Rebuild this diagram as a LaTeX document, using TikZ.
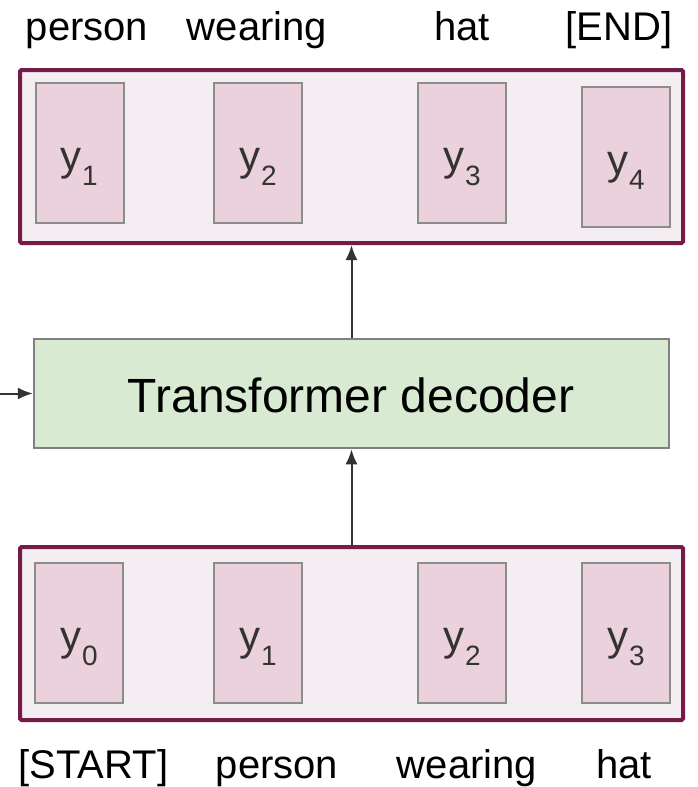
\documentclass[tikz,border=0pt]{standalone}
\usepackage{fontspec}
\setmainfont{Liberation Sans}
\usetikzlibrary{arrows.meta}
\definecolor{seqborder}{HTML}{741B47}
\definecolor{seqfill}{HTML}{F4EEF2}
\definecolor{tokfill}{HTML}{EAD1DC}
\definecolor{tokborder}{HTML}{8C8C8C}
\definecolor{decfill}{HTML}{D9EAD3}
\definecolor{decborder}{HTML}{808080}
\definecolor{symcol}{HTML}{333333}
\newcommand\tok[2]{#1\kern1pt\raisebox{-15pt}{\fontsize{28}{28}\selectfont #2}}
\tikzset{
  seqbox/.style={draw=seqborder, fill=seqfill, line width=4pt, rounded corners=1.5pt,
    minimum width=663pt, minimum height=173pt, inner sep=0pt},
  tokbox/.style={draw=tokborder, fill=tokfill, line width=2pt,
    minimum width=88pt, minimum height=140pt, inner sep=0pt},
  toklabel/.style={anchor=base, text=symcol, font=\fontsize{42}{42}\selectfont, inner sep=0pt},
  word/.style={anchor=base, font=\fontsize{40}{40}\selectfont, inner sep=0pt},
  decbox/.style={draw=decborder, fill=decfill, line width=2.5pt,
    minimum width=635pt, minimum height=109pt, inner sep=0pt},
  declabel/.style={anchor=base, font=\fontsize{48}{48}\selectfont, inner sep=0pt},
  arr/.style={draw=symcol, line width=2pt, -{Latex[length=15pt,width=12pt]}}
}
\begin{document}
\begin{tikzpicture}[x=1pt,y=-1pt]
\useasboundingbox (0,0) rectangle (697,787);

% output sequence
\node[seqbox] (top) at (351.5,156.5) {};
\node[tokbox] (o1) at (79.5,153) {};
\node[tokbox] (o2) at (258,153) {};
\node[tokbox] (o3) at (462,153) {};
\node[tokbox] (o4) at (625.5,157) {};
\node[toklabel] (lo1) at (79,170) {\tok{y}{1}};
\node[toklabel] (lo2) at (258,170) {\tok{y}{2}};
\node[toklabel] (lo3) at (462,170) {\tok{y}{3}};
\node[toklabel] (lo4) at (626,174) {\tok{y}{4}};

% decoder
\node[decbox] (dec) at (351.5,393.5) {};
\node[declabel] (dect) at (351,412) {Transformer decoder};

% input sequence
\node[seqbox] (bot) at (351.5,633.5) {};
\node[tokbox] (i0) at (79,633) {};
\node[tokbox] (i1) at (258,633) {};
\node[tokbox] (i2) at (462,633) {};
\node[tokbox] (i3) at (626,633) {};
\node[toklabel] (li0) at (79,650) {\tok{y}{0}};
\node[toklabel] (li1) at (258,650) {\tok{y}{1}};
\node[toklabel] (li2) at (462,650) {\tok{y}{2}};
\node[toklabel] (li3) at (626,650) {\tok{y}{3}};

% words
\node[word] (w1) at (87,40) {person};
\node[word] (w2) at (257,40) {wearing};
\node[word] (w3) at (462,40) {hat};
\node[word] (w4) at (619,40) {[END]};
\node[word] (s0) at (93.5,778) {[START]};
\node[word] (s1) at (277,778) {person};
\node[word] (s2) at (467,778) {wearing};
\node[word] (s3) at (624,778) {hat};

% connectors
\coordinate (feed) at (0,393.5);
\draw[arr] (feed) -- (dec.west);
\draw[arr] (dec.north) -- (top.south);
\draw[arr] (bot.north) -- (dec.south);
\end{tikzpicture}
\end{document}
